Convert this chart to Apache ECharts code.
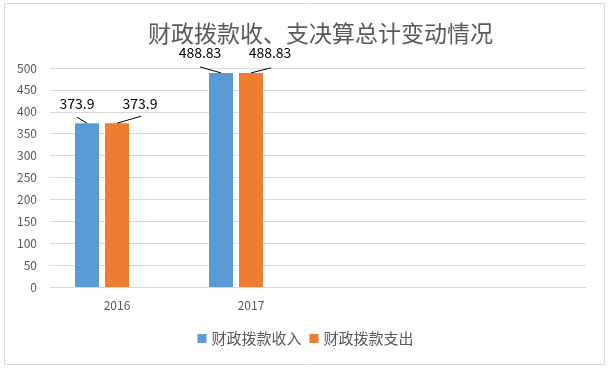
<!DOCTYPE html>
<html><head><meta charset="utf-8">
<script src="https://cdn.jsdelivr.net/npm/echarts@6/dist/echarts.min.js"></script>
<style>html,body{margin:0;padding:0;background:#fff}#c{width:611px;height:371px}</style>
</head><body><div id="c"></div>
<script>
var categories = ['2016', '2017', '', ''];
var incomeValues = [373.9, 488.83];
var expenseValues = [373.9, 488.83];
var seriesNames = ['财政拨款收入', '财政拨款支出'];
var titleText = '财政拨款收、支决算总计变动情况';

var BAR_W = 24, BAR_GAP = 6;
// label offsets (dx, dy) relative to default top position, and leader line end offsets from bar top centre
var labelOffsets = [
  [[-10, -8], [-21, -8]],
  [[23, -8], [19, -8]]
];
var leaderEnds = [
  [[-10, -6], [-21, -6]],
  [[24, -7], [20, -5]]
];
var font = '"Noto Sans CJK SC", "Noto Sans", sans-serif';
var chart = echarts.init(document.getElementById('c'));
function mkLabel() {
  return {show: true, position: 'top', distance: 5, color: '#000', fontSize: 14, fontFamily: font};
}
var leaderData = incomeValues.map(function (v, i) { return [i, v, expenseValues[i]]; });
chart.setOption({
  animation: false,
  graphic: [{type: 'rect', shape: {x: 4.5, y: 3.5, width: 600, height: 361}, style: {fill: 'none', stroke: '#d9d9d9', lineWidth: 1}, silent: true}],
  title: {text: titleText, left: 143, top: 17, textStyle: {fontSize: 23, fontWeight: 'normal', color: '#595959', fontFamily: font}},
  legend: {data: seriesNames, bottom: 20, left: 'center', itemWidth: 9, itemHeight: 9, itemGap: 8, icon: 'rect',
    textStyle: {fontSize: 15, color: '#595959', fontFamily: font}},
  grid: {left: 50, right: 25, top: 68, bottom: 84},
  xAxis: {type: 'category', data: categories, axisTick: {show: false},
    axisLine: {lineStyle: {color: '#d9d9d9'}},
    axisLabel: {color: '#595959', fontSize: 12, margin: 12, fontFamily: font}},
  yAxis: {type: 'value', min: 0, max: 500, interval: 50,
    axisLine: {show: false}, axisTick: {show: false},
    axisLabel: {color: '#595959', fontSize: 12, margin: 13, fontFamily: font},
    splitLine: {lineStyle: {color: '#d9d9d9'}}},
  series: [
    {name: seriesNames[0], type: 'bar', data: incomeValues, barWidth: BAR_W, barGap: (BAR_GAP / BAR_W * 100) + '%',
      itemStyle: {color: '#5B9BD5'}, label: mkLabel(),
      labelLayout: function (p) { var o = labelOffsets[0][p.dataIndex]; return {dx: o[0], dy: o[1]}; }},
    {name: seriesNames[1], type: 'bar', data: expenseValues, barWidth: BAR_W, barGap: (BAR_GAP / BAR_W * 100) + '%',
      itemStyle: {color: '#ED7D31'}, label: mkLabel(),
      labelLayout: function (p) { var o = labelOffsets[1][p.dataIndex]; return {dx: o[0], dy: o[1]}; }},
    {name: '_spacer', type: 'bar', data: [], barWidth: BAR_W, barGap: (BAR_GAP / BAR_W * 100) + '%'},
    {name: '_leaders', type: 'custom', data: leaderData, silent: true, z: 5,
      renderItem: function (params, api) {
        var i = api.value(0);
        var p1 = api.coord([i, api.value(1)]);
        var p2 = api.coord([i, api.value(2)]);
        var step = BAR_W + BAR_GAP;
        var x1 = p1[0] - step, x2 = p2[0];
        var e1 = leaderEnds[0][i], e2 = leaderEnds[1][i];
        var st = {stroke: '#000', lineWidth: 1};
        return {type: 'group', children: [
          {type: 'line', shape: {x1: x1, y1: p1[1], x2: x1 + e1[0], y2: p1[1] + e1[1]}, style: st},
          {type: 'line', shape: {x1: x2, y1: p2[1], x2: x2 + e2[0], y2: p2[1] + e2[1]}, style: st}
        ]};
      }}
  ]
});
</script></body></html>
